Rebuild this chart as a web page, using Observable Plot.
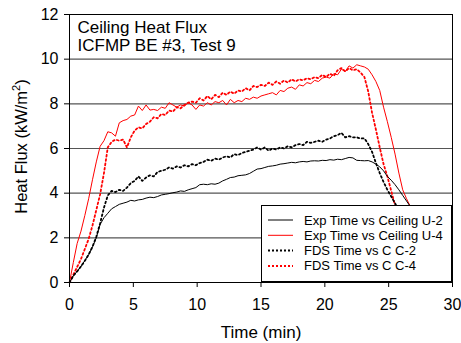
<!DOCTYPE html>
<html>
<head>
<meta charset="utf-8">
<script src="https://cdn.jsdelivr.net/npm/d3@7"></script>
<script src="https://cdn.jsdelivr.net/npm/@observablehq/plot@0.6"></script>
<style>
  html, body { margin: 0; padding: 0; background: #fff; }
  #wrap { position: relative; width: 461px; height: 343px; font-family: "Liberation Sans", Arial, sans-serif; }
  #legend { position: absolute; left: 261px; top: 205px; width: 191px; height: 77px; background: #fff; box-sizing: border-box; border: 1px solid #000; }
</style>
</head>
<body>
<div id="wrap"></div>
<script>
// ---- data ----
const chartTitle = ["Ceiling Heat Flux", "ICFMP BE #3, Test 9"];
const xLabel = "Time (min)";
const yLabelParts = ["Heat Flux (kW/m", "2", ")"];
const xTicks = [0, 5, 10, 15, 20, 25, 30];
const yTicks = [0, 2, 4, 6, 8, 10, 12];
const seriesNames = ["Exp Time vs Ceiling U-2", "Exp Time vs Ceiling U-4", "FDS Time vs C C-2", "FDS Time vs C C-4"];

const expTime = [0, 0.3, 0.6, 0.9, 1.2, 1.5, 1.8, 2.1, 2.4, 2.7, 3.0, 3.3, 3.6, 3.9, 4.2, 4.5, 4.8, 5.1, 5.4, 5.7,
  6.0, 6.3, 6.6, 6.9, 7.2, 7.5, 7.8, 8.1, 8.4, 8.7, 9.0, 9.3, 9.6, 9.9, 10.2, 10.5, 10.8, 11.1, 11.4, 11.7,
  12.0, 12.3, 12.6, 12.9, 13.2, 13.5, 13.8, 14.1, 14.4, 14.7, 15.0, 15.3, 15.6, 15.9, 16.2, 16.5, 16.8, 17.1, 17.4, 17.7,
  18.0, 18.3, 18.6, 18.9, 19.2, 19.5, 19.8, 20.1, 20.4, 20.7, 21.0, 21.3, 21.6, 21.9, 22.2, 22.5, 22.8, 23.1, 23.4, 23.7,
  24.0, 24.3, 24.6, 24.9, 25.2, 25.5, 25.8, 26.1, 26.4, 26.7, 27.0, 27.3, 27.6, 27.9, 28.2, 28.5];

const expU2 = [0, 0.3, 0.5, 0.72, 0.98, 1.25, 1.6, 2.0, 2.6, 2.9, 3.1, 3.3, 3.4, 3.5, 3.55, 3.6, 3.68, 3.65, 3.7, 3.72,
  3.78, 3.82, 3.8, 3.85, 3.92, 3.95, 3.98, 4.02, 4.05, 4.1, 4.08, 4.15, 4.2, 4.25, 4.38, 4.4, 4.38, 4.42, 4.4, 4.45,
  4.55, 4.62, 4.7, 4.72, 4.78, 4.8, 4.82, 4.88, 4.98, 5.08, 5.1, 5.15, 5.2, 5.22, 5.25, 5.3, 5.32, 5.35, 5.38, 5.36,
  5.4, 5.42, 5.4, 5.44, 5.45, 5.44, 5.47, 5.46, 5.5, 5.48, 5.52, 5.5, 5.55, 5.6, 5.58, 5.47, 5.46, 5.45, 5.46, 5.4,
  5.3, 5.18, 5.0, 4.75, 4.58, 4.38, 4.15, 3.9, 3.65, 3.4, 3.15, 2.9, 2.65, 2.45, 2.25, 2.1];

const expU4 = [0, 0.9, 1.75, 2.3, 3.0, 3.75, 4.6, 5.4, 6.1, 6.35, 6.75, 6.7, 6.55, 7.15, 7.25, 7.3, 7.45, 7.5, 7.9, 7.7,
  7.95, 7.72, 7.75, 7.7, 7.85, 7.8, 8.05, 7.95, 7.85, 7.95, 7.9, 8.05, 7.95, 7.75, 7.95, 7.9, 8.05, 7.95, 8.1, 8.05,
  8.15, 7.95, 8.2, 8.05, 8.15, 8.1, 8.25, 8.2, 8.3, 8.25, 8.35, 8.4, 8.45, 8.5, 8.4, 8.6, 8.55, 8.7, 8.75, 8.65,
  8.85, 8.8, 8.95, 8.9, 9.05, 9.0, 9.15, 9.2, 9.15, 9.35, 9.3, 9.55, 9.45, 9.7, 9.6, 9.75, 9.7, 9.65, 9.55, 9.3,
  9.0, 8.6, 7.85, 7.2, 6.5, 5.75, 4.9, 4.15, 3.75, 3.4, 3.05, 2.7, 2.4, 2.15, 1.95, 1.8];

const fdsTime = [0, 0.3, 0.6, 0.9, 1.2, 1.5, 1.8, 2.1, 2.4, 2.7, 3.0, 3.3, 3.6, 3.9, 4.2, 4.5, 4.8, 5.1, 5.4, 5.7,
  6.0, 6.3, 6.6, 6.9, 7.2, 7.5, 7.8, 8.1, 8.4, 8.7, 9.0, 9.3, 9.6, 9.9, 10.2, 10.5, 10.8, 11.1, 11.4, 11.7,
  12.0, 12.3, 12.6, 12.9, 13.2, 13.5, 13.8, 14.1, 14.4, 14.7, 15.0, 15.3, 15.6, 15.9, 16.2, 16.5, 16.8, 17.1, 17.4, 17.7,
  18.0, 18.3, 18.6, 18.9, 19.2, 19.5, 19.8, 20.1, 20.4, 20.7, 21.0, 21.3, 21.6, 21.9, 22.2, 22.5, 22.8, 23.1, 23.4, 23.7,
  24.0, 24.3, 24.6, 24.9, 25.2, 25.5, 25.8, 26.1, 26.4, 26.7, 27.0];

const fdsC2 = [0, 0.3, 0.5, 0.72, 0.97, 1.25, 1.6, 2.05, 2.65, 3.35, 3.9, 4.1, 4.05, 4.15, 4.1, 4.25, 4.45, 4.55, 4.75, 4.55,
  4.7, 4.8, 4.75, 4.95, 5.0, 5.05, 5.15, 5.1, 5.2, 5.15, 5.25, 5.2, 5.3, 5.25, 5.35, 5.4, 5.5, 5.45, 5.55, 5.5,
  5.6, 5.65, 5.6, 5.75, 5.7, 5.8, 5.85, 5.9, 5.95, 6.05, 5.95, 6.05, 5.9, 6.0, 5.95, 6.05, 6.0, 6.1, 6.05, 6.15,
  6.2, 6.15, 6.3, 6.25, 6.3, 6.35, 6.3, 6.4, 6.45, 6.55, 6.6, 6.7, 6.5, 6.55, 6.5, 6.5, 6.45, 6.45, 6.2, 5.85,
  5.35, 4.9, 4.5, 4.15, 3.85, 3.55, 3.2, 2.9, 2.6, 2.35, 2.1];

const fdsC4 = [0, 0.35, 0.7, 1.05, 1.5, 1.95, 2.55, 3.25, 3.95, 4.9, 6.05, 6.3, 6.4, 6.35, 6.4, 6.05, 6.5, 6.8, 6.95, 6.9,
  7.1, 7.2, 7.4, 7.35, 7.55, 7.5, 7.7, 7.65, 7.85, 7.8, 7.95, 8.05, 8.1, 8.05, 8.25, 8.15, 8.35, 8.2, 8.4, 8.3,
  8.5, 8.4, 8.55, 8.45, 8.6, 8.55, 8.7, 8.6, 8.8, 8.75, 8.85, 8.8, 8.95, 8.85, 9.0, 8.9, 9.05, 8.95, 9.1, 9.0,
  9.1, 9.05, 9.15, 9.1, 9.2, 9.15, 9.3, 9.2, 9.35, 9.25, 9.5, 9.6, 9.45, 9.6, 9.5, 9.55, 9.4, 9.2, 8.55, 7.6,
  6.85, 6.05, 5.3, 4.75, 4.1, 3.45, 2.9, 2.4, 2.0, 1.7, 1.5];

const seriesColors = ["#000000", "#ff0000", "#000000", "#ff0000"];
const seriesDash = [null, null, "1.8,2.6", "1.8,2.6"];

// ---- build table ----
const rows = [];
expTime.forEach((t, i) => {
  rows.push({t, v: expU2[i], s: seriesNames[0]});
  rows.push({t, v: expU4[i], s: seriesNames[1]});
});
fdsTime.forEach((t, i) => {
  rows.push({t, v: fdsC2[i], s: seriesNames[2]});
  rows.push({t, v: fdsC4[i], s: seriesNames[3]});
});

const font = "'Liberation Sans', Arial, sans-serif";

const lineMarks = seriesNames.map((name, k) =>
  Plot.line(rows.filter(d => d.s === name), {
    x: "t", y: "v",
    stroke: seriesColors[k],
    strokeWidth: seriesDash[k] ? 1.8 : 1,
    strokeDasharray: seriesDash[k] || undefined,
    strokeLinejoin: "round"
  })
);

const chart = Plot.plot({
  width: 461,
  height: 343,
  marginLeft: 69,
  marginRight: 9,
  marginTop: 14,
  marginBottom: 61,
  style: {fontFamily: font, fontSize: "16px", background: "#fff", color: "#000", overflow: "visible"},
  x: {domain: [0, 30], label: null},
  y: {domain: [0, 12], label: null},
  marks: [
    Plot.gridY(yTicks.filter(v => v > 0 && v < 12), {stroke: "#555", strokeOpacity: 1, strokeWidth: 1.2}),
    ...lineMarks.slice().reverse(),
    Plot.frame({stroke: "#000", strokeWidth: 1}),
    Plot.axisX(xTicks, {tickSize: 5, tickPadding: 11, fontSize: 16, label: null, stroke: "#000"}),
    Plot.axisY(yTicks, {tickSize: 5, tickPadding: 6, fontSize: 16, label: null, stroke: "#000"}),
    Plot.text([chartTitle.join("\n")], {
      frameAnchor: "top-left", dx: 8, dy: 6, lineAnchor: "top", textAnchor: "start",
      fontSize: 17, lineHeight: 1.06, fill: "#000"
    }),
    Plot.text([xLabel], {frameAnchor: "bottom", dy: 50, lineAnchor: "middle", fontSize: 17, fill: "#000"})
  ]
});

const wrap = document.getElementById("wrap");
wrap.appendChild(chart);

const ns = "http://www.w3.org/2000/svg";

// ---- y axis title with a real superscript ----
const yTitle = document.createElementNS(ns, "text");
yTitle.setAttribute("transform", "translate(27,146.5) rotate(-90)");
yTitle.setAttribute("text-anchor", "middle");
yTitle.setAttribute("font-family", font);
yTitle.setAttribute("font-size", "16.5");
yTitle.setAttribute("fill", "#000");
const t1 = document.createElementNS(ns, "tspan");
t1.textContent = yLabelParts[0];
const t2 = document.createElementNS(ns, "tspan");
t2.setAttribute("font-size", "11");
t2.setAttribute("dy", "-7");
t2.textContent = yLabelParts[1];
const t3 = document.createElementNS(ns, "tspan");
t3.setAttribute("dy", "7");
t3.textContent = yLabelParts[2];
yTitle.append(t1, t2, t3);
chart.appendChild(yTitle);

// ---- legend (inside plot, lower right) ----
const legend = document.createElement("div");
legend.id = "legend";
const lsvg = document.createElementNS(ns, "svg");
lsvg.setAttribute("width", "189");
lsvg.setAttribute("height", "75");
lsvg.style.display = "block";
seriesNames.forEach((name, k) => {
  const cy = 14 + k * 15.3;
  const ln = document.createElementNS(ns, "line");
  ln.setAttribute("x1", 6); ln.setAttribute("x2", 31);
  ln.setAttribute("y1", cy); ln.setAttribute("y2", cy);
  ln.setAttribute("stroke", seriesColors[k]);
  ln.setAttribute("stroke-width", seriesDash[k] ? 2 : 1);
  if (seriesDash[k]) ln.setAttribute("stroke-dasharray", "2,2");
  lsvg.appendChild(ln);
  const tx = document.createElementNS(ns, "text");
  tx.setAttribute("x", 42); tx.setAttribute("y", cy);
  tx.setAttribute("dy", "0.35em");
  tx.setAttribute("font-family", font);
  tx.setAttribute("font-size", "13");
  tx.textContent = name;
  lsvg.appendChild(tx);
});
legend.appendChild(lsvg);
wrap.appendChild(legend);
</script>
</body>
</html>
